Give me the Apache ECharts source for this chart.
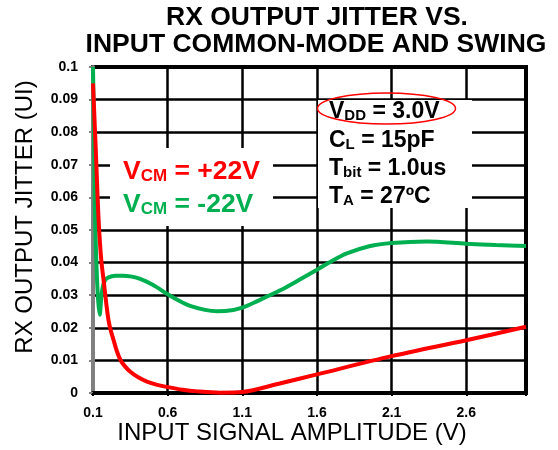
<!DOCTYPE html>
<html>
<head>
<meta charset="utf-8">
<script src="https://cdn.jsdelivr.net/npm/echarts@6/dist/echarts.min.js"></script>
<style>
html,body{margin:0;padding:0;background:#fff;}
#chart{width:558px;height:450px;}
</style>
</head>
<body>
<div id="chart"></div>
<script>
// ---- data ----
const titleLines = ['RX OUTPUT JITTER VS.', 'INPUT COMMON-MODE AND SWING'];
const xName = 'INPUT SIGNAL AMPLITUDE (V)';
const yName = 'RX OUTPUT JITTER (UI)';
const xTicks = [0.1, 0.6, 1.1, 1.6, 2.1, 2.6];
const xGridTicks = [0.1, 0.6, 1.1, 1.6, 2.1, 2.6, 3.0];

const redX = [0.1, 0.11, 0.12, 0.13, 0.14, 0.155, 0.171, 0.19, 0.204, 0.22, 0.238, 0.26, 0.283, 0.31, 0.35, 0.4, 0.461, 0.53, 0.6, 0.7, 0.8, 0.95, 1.1, 1.35, 1.6, 2.1, 2.6, 3.0];
const redY = [0.095, 0.084, 0.073, 0.061, 0.051, 0.041, 0.0346, 0.027, 0.0223, 0.019, 0.0162, 0.0128, 0.0102, 0.0084, 0.0065, 0.0049, 0.0035, 0.0025, 0.0018, 0.001, 0.0005, 0.0001, 0.0003, 0.0029, 0.0057, 0.0113, 0.0162, 0.0203];

const greenX = [0.1, 0.108, 0.115, 0.125, 0.135, 0.145, 0.155, 0.165, 0.18, 0.2, 0.25, 0.3, 0.36, 0.416, 0.5, 0.6, 0.68, 0.75, 0.85, 0.93, 1.0, 1.1, 1.2, 1.354, 1.5, 1.6, 1.7, 1.8, 1.95, 2.1, 2.335, 2.6, 2.8, 3.0];
const greenY = [0.1, 0.075, 0.052, 0.037, 0.028, 0.024, 0.029, 0.0325, 0.0345, 0.0354, 0.036, 0.036, 0.0357, 0.035, 0.0332, 0.0303, 0.0282, 0.0267, 0.0255, 0.0251, 0.0252, 0.0262, 0.0282, 0.0315, 0.0352, 0.0378, 0.0405, 0.0428, 0.045, 0.046, 0.0465, 0.0458, 0.0454, 0.0451];

const legendRed = ['V', 'CM', ' = +22V'];
const legendGreen = ['V', 'CM', ' = -22V'];
const condLines = [['V', 'DD', ' = 3.0V'], ['C', 'L', ' = 15pF'], ['T', 'bit', ' = 1.0us'], ['T', 'A', ' = 27ºC']];

// ---- build ----
const FONT = 'Liberation Sans, Arial, sans-serif';
const RED = '#ff0000';
const GREEN = '#00b050';
const pair = (xs, ys) => xs.map((x, i) => [x, ys[i]]);

function richLine(parts, size, subSize, color) {
  return {
    text: '{m|' + parts[0] + '}{s|' + parts[1] + '}{m|' + parts[2] + '}',
    rich: {
      m: {fontSize: size, fontWeight: 'bold', fontFamily: FONT, fill: color, verticalAlign: 'bottom', lineHeight: size * 1.15},
      s: {fontSize: subSize, fontWeight: 'bold', fontFamily: FONT, fill: color, verticalAlign: 'bottom', lineHeight: size * 1.0}
    }
  };
}

const chart = echarts.init(document.getElementById('chart'), null, {renderer: 'canvas'});

const graphics = [
  {type: 'text', z: 10, style: {x: 317, y: 18, text: titleLines[0], align: 'center', verticalAlign: 'middle', font: 'bold 26.5px ' + FONT, fill: '#000'}},
  {type: 'text', z: 10, style: {x: 316, y: 45, text: titleLines[1], align: 'center', verticalAlign: 'middle', font: 'bold 26.5px ' + FONT, fill: '#000'}},
  {type: 'text', z: 10, style: {x: 292, y: 433, text: xName, align: 'center', verticalAlign: 'middle', font: '24px ' + FONT, fill: '#000'}},
  {type: 'text', z: 10, x: 25, y: 217, rotation: Math.PI / 2, style: {x: 0, y: 0, text: yName, align: 'center', verticalAlign: 'middle', font: '24px ' + FONT, fill: '#000'}},
  {type: 'rect', z: 5, shape: {x: 110, y: 148, width: 163, height: 78}, style: {fill: '#fff'}},
  {type: 'rect', z: 5, shape: {x: 318, y: 100, width: 154, height: 108}, style: {fill: '#fff'}},
  {type: 'ellipse', z: 11, shape: {cx: 386.5, cy: 108.5, rx: 69, ry: 15.5}, style: {fill: 'none', stroke: RED, lineWidth: 1.5}}
];

function addRich(parts, x, y, size, subSize, color) {
  const r = richLine(parts, size, subSize, color);
  graphics.push({type: 'text', z: 12, style: {x: x, y: y, text: r.text, rich: r.rich, align: 'left', verticalAlign: 'middle'}});
}
addRich(legendRed, 123, 170, 26.5, 17, RED);
addRich(legendGreen, 123, 203, 26.5, 17, GREEN);
const condY = [110, 139, 167, 195];
condLines.forEach((p, i) => addRich(p, 329, condY[i], 23, 15, '#000'));

const option = {
  animation: false,
  backgroundColor: '#fff',
  grid: {left: 93, right: 32, top: 67, bottom: 57, show: true, borderColor: '#000', borderWidth: 4, backgroundColor: 'transparent'},
  xAxis: {
    type: 'value', min: 0.1, max: 3.0,
    axisLine: {show: true, onZero: false, lineStyle: {color: '#000', width: 4}},
    axisTick: {show: true, length: 3, inside: false, customValues: xGridTicks, lineStyle: {color: '#000', width: 2}},
    axisLabel: {customValues: xTicks, margin: 13, fontFamily: FONT, fontWeight: 'bold', fontSize: 14, color: '#000', formatter: v => v.toFixed(1)},
    splitLine: {show: true, lineStyle: {color: '#000', width: 2.5}}
  },
  yAxis: {
    type: 'value', min: 0, max: 0.1, interval: 0.01,
    axisLine: {show: true, lineStyle: {color: '#808080', width: 4}},
    axisTick: {show: true, length: 4, lineStyle: {color: '#808080', width: 2}},
    axisLabel: {margin: 15, fontFamily: FONT, fontWeight: 'bold', fontSize: 14, color: '#000', formatter: v => String(+v.toFixed(2))},
    splitLine: {show: true, lineStyle: {color: '#000', width: 2.5}}
  },
  graphic: graphics,
  series: [
    {type: 'line', data: pair(greenX, greenY), smooth: 0.3, symbol: 'none', lineStyle: {color: GREEN, width: 4}, z: 3},
    {type: 'line', data: pair(redX, redY), smooth: 0.3, symbol: 'none', lineStyle: {color: RED, width: 4}, z: 4}
  ]
};
chart.setOption(option);
</script>
</body>
</html>
